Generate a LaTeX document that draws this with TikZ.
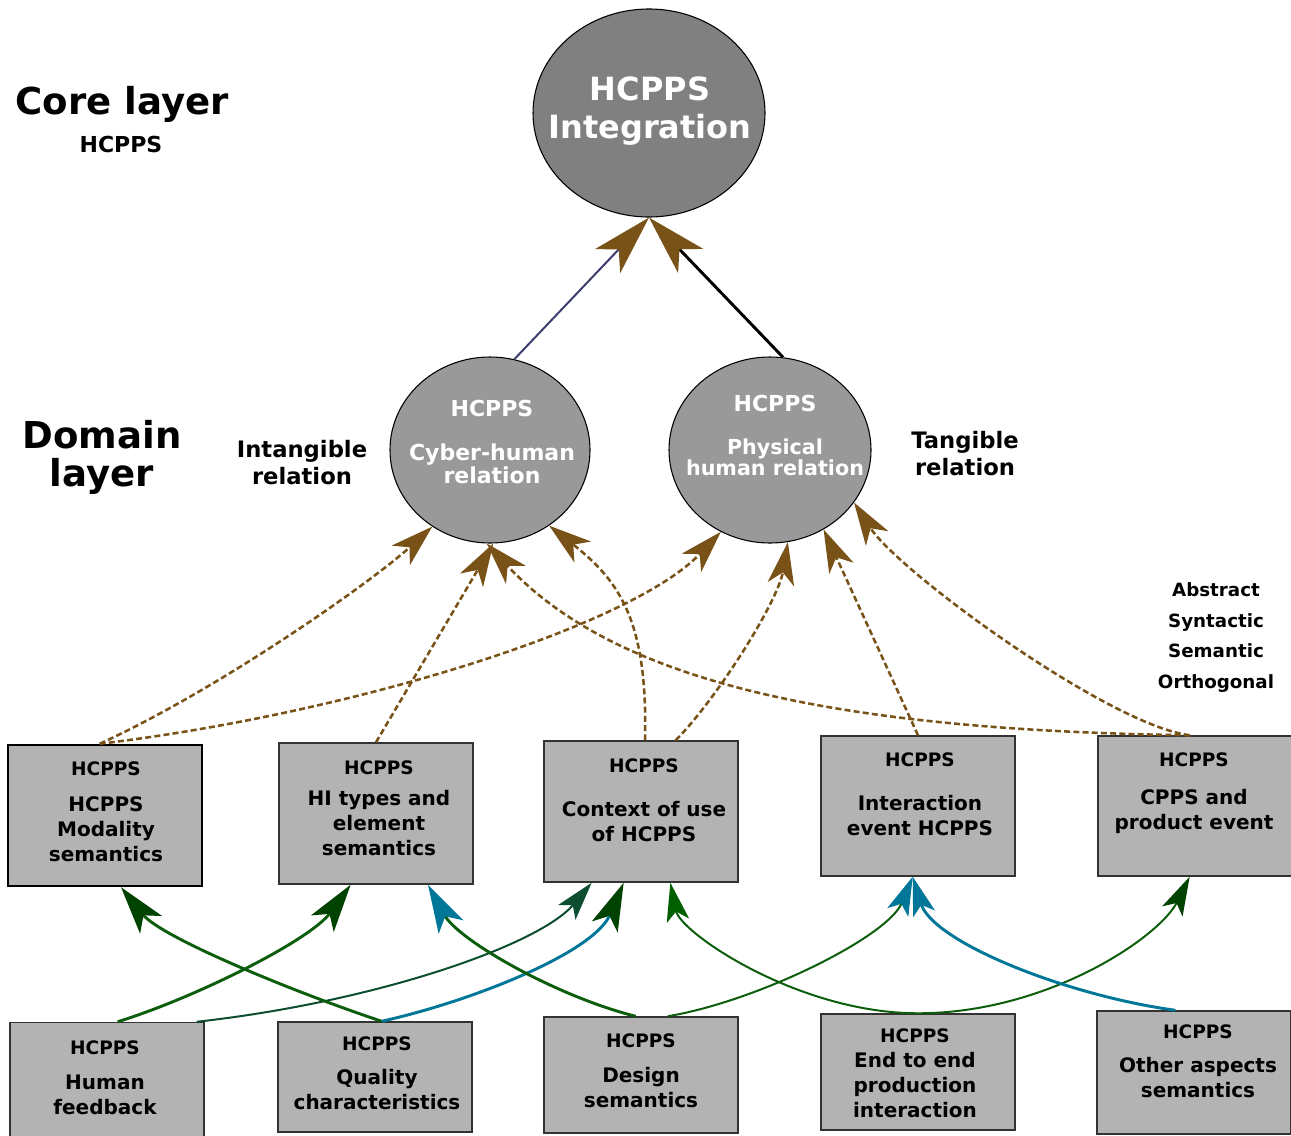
\documentclass[tikz,border=0pt]{standalone}
\usepackage{fontspec}
\setmainfont{DejaVu Sans}
\usepackage{tikz}
\usetikzlibrary{arrows.meta,shapes.geometric}
\definecolor{hbrown}{RGB}{120,82,22}
\definecolor{hgreen}{RGB}{12,94,12}
\definecolor{hdkgreen}{RGB}{0,66,0}
\definecolor{hmidgreen}{RGB}{0,96,0}
\definecolor{hteal}{RGB}{0,118,152}
\definecolor{hpine}{RGB}{14,78,48}
\definecolor{hslate}{RGB}{62,62,110}
\definecolor{corefill}{RGB}{128,128,128}
\definecolor{domfill}{RGB}{153,153,153}
\definecolor{boxfill}{RGB}{179,179,179}
\newcommand{\hdr}{\fontsize{13.9}{18.75}\selectfont}

\tikzset{
  tipcore/.style={-{Stealth[length=45pt,width=26pt,inset=12pt,color=#1]}},
  tipdash/.style={-{Stealth[length=32pt,width=20pt,inset=9pt,color=#1]}},
  tipbig/.style={-{Stealth[length=36pt,width=21pt,inset=9pt,color=#1]}},
  tipsml/.style={-{Stealth[length=29pt,width=17pt,inset=7pt,color=#1]}},
  dashlink/.style={hbrown, line width=1.9pt, dash pattern=on 4.5pt off 2.4pt, tipdash=hbrown},
  elltxt/.style={text=white, align=center, inner sep=0, anchor=north},
  boxtxt/.style={font=\fontsize{15}{18.75}\selectfont\bfseries, align=center, inner sep=0, anchor=north},
  hbox/.style={draw=black!80, line width=1.1pt, fill=boxfill, minimum width=145.5pt, inner sep=0},
  domell/.style={ellipse, draw=black, line width=0.8pt, fill=domfill, inner sep=0, minimum width=150pt, minimum height=139.5pt},
}

\begin{document}
\begin{tikzpicture}[x=0.75pt,y=-0.75pt,
  lbl/.style={align=center, inner sep=0, anchor=north, font=#1\bfseries}]
  \clip (0,0) rectangle (1291,1135);

  % layer labels
  \node[lbl=\fontsize{27.8}{28.5}\selectfont] (corelbl) at (122,86.5) {Core layer};
  \node[lbl=\fontsize{16.5}{18}\selectfont] (corehc) at (121,136) {HCPPS};
  \node[lbl=\fontsize{27.8}{28.5}\selectfont] (domlbl) at (102,420.5) {Domain\\layer};
  \node[lbl=\fontsize{17}{20.25}\selectfont] (intang) at (302,439.7) {Intangible\\relation};
  \node[lbl=\fontsize{17}{20.25}\selectfont] (tang) at (965,430.7) {Tangible\\relation};
  \node[lbl=\fontsize{13.7}{23}\selectfont] (kinds) at (1216,582.3) {Abstract\\Syntactic\\Semantic\\Orthogonal};

  % ellipses
  \node[ellipse, draw=black, line width=0.8pt, fill=corefill, inner sep=0,
        minimum width=174pt, minimum height=156pt] (core) at (649,113) {};
  \node[domell] (cyber) at (490,450) {};
  \node[domell, minimum width=151.5pt] (phys) at (770,450) {};
  \node[elltxt, font=\fontsize{24}{29}\selectfont\bfseries] (coretxt) at (650,76.3) {HCPPS\\Integration};
  \node[elltxt, font=\fontsize{16.5}{17.25}\selectfont\bfseries] (cybertxt) at (492,400)
    {HCPPS\\[15.75pt]Cyber-human\\relation};
  \node[elltxt, font=\fontsize{15.5}{15.75}\selectfont\bfseries] (phystxt) at (775,395)
    {{\fontsize{16.5}{15.75}\selectfont HCPPS}\\[16.5pt]Physical\\human relation};

  % upper boxes
  \node[hbox, minimum height=105.75pt, line width=1.8pt, draw=black] (b1) at (105,815.5) {};
  \node[hbox, minimum height=105.75pt] (b2) at (376,813.5) {};
  \node[hbox, minimum height=105.75pt] (b3) at (641,811.5) {};
  \node[hbox, minimum height=105pt] (b4) at (918,806) {};
  \node[hbox, minimum height=105pt] (b5) at (1195,806) {};
  \node[boxtxt] (b1txt) at (106,761.3) {{\hdr HCPPS}\\[8pt]HCPPS\\Modality\\semantics};
  \node[boxtxt] (b2txt) at (379,760.3) {{\hdr HCPPS}\\[4.5pt]HI types and\\element\\semantics};
  \node[boxtxt] (b3txt) at (644,758.3) {{\hdr HCPPS}\\[14pt]Context of use\\of HCPPS};
  \node[boxtxt] (b4txt) at (920,752.3) {{\hdr HCPPS}\\[14pt]Interaction\\event HCPPS};
  \node[boxtxt] (b5txt) at (1194,752.3) {{\hdr HCPPS}\\[10pt]CPPS and\\product event};

  % lower boxes
  \node[hbox, minimum height=87.75pt] (c1) at (107,1081) {};
  \node[hbox, minimum height=82.5pt] (c2) at (375,1077) {};
  \node[hbox, minimum height=87pt] (c3) at (641,1075) {};
  \node[hbox, minimum height=87pt] (c4) at (918,1072) {};
  \node[hbox, minimum height=92.25pt] (c5) at (1194,1072.5) {};
  \node[boxtxt] (c1txt) at (105,1040.3) {{\hdr HCPPS}\\[7.5pt]Human\\feedback};
  \node[boxtxt] (c2txt) at (377,1036.3) {{\hdr HCPPS}\\[7pt]Quality\\characteristics};
  \node[boxtxt] (c3txt) at (641,1033.3) {{\hdr HCPPS}\\[7.5pt]Design\\semantics};
  \node[boxtxt] (c4txt) at (915,1028.3) {{\hdr HCPPS}\\End to end\\production\\interaction};
  \node[boxtxt] (c5txt) at (1198,1024.3) {{\hdr HCPPS}\\[7pt]Other aspects\\semantics};

  % domain -> core
  \draw[hslate, line width=1.5pt, tipcore=hbrown] (cyber.75) -- (core.south);
  \draw[black, line width=2.2pt, tipcore=hbrown] (phys.82) -- (core.south);

  % upper boxes -> domain
  \draw[dashlink] ([xshift=-4pt]b1.north) .. controls +(120,-55) and +(-60,55) .. (cyber.233);
  \draw[dashlink] ([xshift=-4pt]b1.north) .. controls +(250,-30) and +(-90,95) .. (phys.239);
  \draw[dashlink] (b2.north) -- (cyber.272);
  \draw[dashlink] ([xshift=3pt]b3.north) .. controls +(3,-120) and +(70,55) .. (cyber.308);
  \draw[dashlink] ([xshift=26pt]b3.north) .. controls +(40,-40) and +(-10,60) .. (phys.281);
  \draw[dashlink] (b4.north) -- (phys.304);
  \draw[dashlink] ([xshift=-4pt]b5.north) .. controls +(-350,-5) and +(130,140) .. (cyber.268);
  \draw[dashlink] ([xshift=-4pt]b5.north) .. controls +(-80,-10) and +(45,70) .. (phys.328);

  % lower boxes -> upper boxes
  \draw[hgreen, line width=2.2pt, tipbig=hdkgreen] ([xshift=8pt]c1.north)
    .. controls +(80,-25) and +(-40,55) .. ([xshift=-19pt]b2.south);
  \draw[hpine, line width=1.5pt, tipsml=hpine] ([xshift=-6pt]c1.north east)
    .. controls +(180,-20) and +(-52,62) .. ([xshift=-37pt]b3.south);
  \draw[hgreen, line width=2.2pt, tipbig=hdkgreen] ([xshift=5pt]c2.north)
    .. controls +(-90,-30) and +(40,50) .. ([xshift=12pt]b1.south);
  \draw[hteal, line width=2.2pt, tipbig=hdkgreen] ([xshift=5pt]c2.north)
    .. controls +(90,-20) and +(-30,70) .. ([xshift=-13pt]b3.south);
  \draw[hgreen, line width=2.2pt, tipbig=hteal] ([xshift=-4pt]c3.north)
    .. controls +(-80,-20) and +(30,55) .. ([xshift=39pt]b2.south);
  \draw[hgreen, line width=1.5pt, tipsml=hteal] ([xshift=20pt]c3.north)
    .. controls +(90,-15) and +(-25,60) .. ([xshift=-4pt]b4.south);
  \draw[hgreen, line width=1.5pt, tipsml=hmidgreen] (c4.north)
    .. controls +(-120,0) and +(10,50) .. ([xshift=22pt]b3.south);
  \draw[hgreen, line width=1.5pt, tipsml=hdkgreen] (c4.north)
    .. controls +(130,0) and +(-30,60) .. ([xshift=-4pt]b5.south);
  \draw[hteal, line width=2.2pt, tipsml=hteal] ([xshift=-14pt]c5.north)
    .. controls +(-110,-15) and +(20,65) .. ([xshift=-4pt]b4.south);
\end{tikzpicture}
\end{document}
